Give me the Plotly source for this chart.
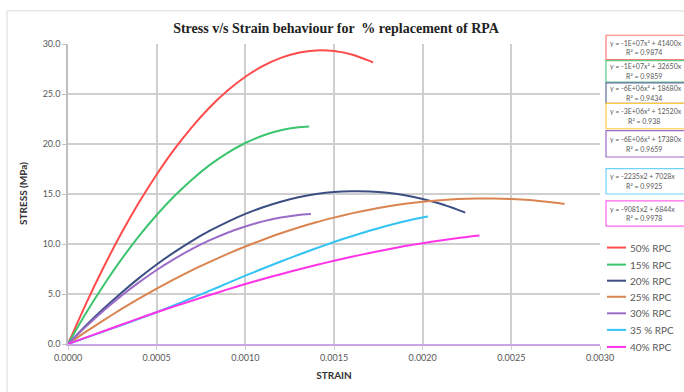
import plotly.graph_objects as go

# Strain readings (in units of 1e-4) and stress (MPa) for each RPC mix
strain_50 = [0, 1, 2, 3, 4, 5, 6, 7, 8, 9, 10, 11, 12, 13, 14, 15, 16, 17, 17.2]
stress_50 = [0, 3.97, 7.65, 11.04, 14.14, 16.95, 19.48, 21.72, 23.68, 25.34, 26.72,
             27.81, 28.61, 29.13, 29.36, 29.29, 28.95, 28.31, 28.15]

strain_15 = [0, 1, 2, 3, 4, 5, 6, 7, 8, 9, 10, 11, 12, 13, 13.6]
stress_15 = [0, 3.04, 5.85, 8.43, 10.78, 12.90, 14.80, 16.46, 17.91, 19.12, 20.10,
             20.85, 21.38, 21.68, 21.75]

strain_20 = [0, 1, 2, 3, 4, 5, 6, 7, 8, 9, 10, 11, 12, 13, 14, 15, 16, 17, 18, 19,
             20, 21, 22, 22.4]
stress_20 = [0, 1.82, 3.52, 5.11, 6.59, 7.95, 9.19, 10.32, 11.33, 12.22, 13.01, 13.68,
             14.23, 14.67, 14.99, 15.20, 15.28, 15.26, 15.13, 14.87, 14.50, 14.02,
             13.41, 13.14]

strain_25 = [0, 1, 2, 3, 4, 5, 6, 7, 8, 9, 10, 11, 12, 13, 14, 15, 16, 17, 18, 19,
             20, 21, 22, 23, 24, 25, 26, 27, 28]
stress_25 = [0, 1.21, 2.37, 3.48, 4.53, 5.53, 6.48, 7.38, 8.22, 9.01, 9.75, 10.43,
             11.07, 11.65, 12.18, 12.64, 13.06, 13.43, 13.75, 14.02, 14.23, 14.38,
             14.49, 14.54, 14.54, 14.49, 14.39, 14.22, 14.01]

strain_30 = [0, 1, 2, 3, 4, 5, 6, 7, 8, 9, 10, 11, 12, 13, 13.7]
stress_30 = [0, 1.72, 3.33, 4.81, 6.16, 7.40, 8.51, 9.51, 10.38, 11.13, 11.75, 12.26,
             12.64, 12.90, 13.00]

strain_35 = [0, 1, 2, 3, 4, 5, 6, 7, 8, 9, 10, 11, 12, 13, 14, 15, 16, 17, 18, 19,
             20, 20.3]
stress_35 = [0, 0.62, 1.25, 1.88, 2.52, 3.18, 3.88, 4.60, 5.33, 6.08, 6.83, 7.55, 8.25,
             8.92, 9.57, 10.20, 10.78, 11.32, 11.82, 12.27, 12.65, 12.75]

strain_40 = [0, 1, 2, 3, 4, 5, 6, 7, 8, 9, 10, 11, 12, 13, 14, 15, 16, 17, 18, 19,
             20, 21, 22, 23, 23.2]
stress_40 = [0, 0.64, 1.28, 1.92, 2.56, 3.18, 3.76, 4.34, 4.90, 5.46, 6.00, 6.50, 6.98,
             7.45, 7.90, 8.32, 8.72, 9.10, 9.46, 9.79, 10.08, 10.35, 10.60, 10.82, 10.86]

series_names = ["50% RPC", "15% RPC", "20% RPC", "25% RPC", "30% RPC", "35 % RPC", "40% RPC"]
series_colors = ["#FF4B4B", "#3CC46E", "#3B4F82", "#DA8550", "#9B6BC8", "#33C3F4", "#FF33E8"]
series_strain = [strain_50, strain_15, strain_20, strain_25, strain_30, strain_35, strain_40]
series_stress = [stress_50, stress_15, stress_20, stress_25, stress_30, stress_35, stress_40]

# Quadratic trendline labels
trend_eq = ["y = -1E+07x² + 41400x", "y = -1E+07x² + 32650x", "y = -6E+06x² + 18680x",
            "y = -3E+06x² + 12520x", "y = -6E+06x² + 17380x", "y = -2235x2 + 7028x",
            "y = -9081x2 + 6844x"]
trend_r2 = ["R² = 0.9874", "R² = 0.9859", "R² = 0.9434", "R² = 0.938", "R² = 0.9659",
            "R² = 0.9925", "R² = 0.9978"]
trend_border = ["#FF7A7A", "#5CCB86", "#5A6C9A", "#FFC940", "#9B6BC8", "#6FD3F7", "#FF66EE"]

x_ticks = [0, 0.0005, 0.0010, 0.0015, 0.0020, 0.0025, 0.0030]
y_ticks = [0, 5, 10, 15, 20, 25, 30]

W, H = 684, 392
L, R, T, B = 68, 600, 44, 352  # plot area in pixels


def px(x):
    return (x - L) / (R - L)


def py(y):
    return (B - y) / (B - T)


fig = go.Figure()
for name, col, sx, sy in zip(series_names, series_colors, series_strain, series_stress):
    fig.add_trace(go.Scatter(
        x=[v * 1e-4 for v in sx], y=sy, name=name, mode="lines",
        line=dict(color=col, width=2, shape="spline", smoothing=0.6),
        showlegend=False,
    ))

tick_font = dict(family="Lato, Liberation Sans, sans-serif", size=9, color="#595959")
small_font = dict(family="Liberation Sans Narrow, Lato, sans-serif", size=7, color="#595959")
axis_title_font = dict(family="Lato, Liberation Sans, sans-serif", size=10, color="#333333")

fig.update_layout(
    width=W, height=H,
    margin=dict(l=L, r=W - R, t=T, b=H - B),
    paper_bgcolor="white", plot_bgcolor="white",
    title=dict(text="<b>Stress v/s Strain behaviour for  % replacement of RPA</b>",
               x=336 / W, xanchor="center", y=1 - 28 / H, yanchor="middle",
               font=dict(family="Liberation Serif, serif", size=14, color="#222222")),
    xaxis=dict(range=[0, 0.003], tickvals=x_ticks, tickformat=".4f",
               showgrid=True, gridcolor="#CFCFCF", gridwidth=1.5,
               showline=True, linecolor="#C9A6E0", linewidth=1.5,
               ticks="outside", ticklen=4, tickcolor="#CFCFCF",
               tickfont=tick_font, zeroline=False,
               title=dict(text="<b>STRAIN</b>", standoff=10, font=axis_title_font)),
    yaxis=dict(range=[0, 30], tickvals=y_ticks, tickformat=".1f",
               showgrid=True, gridcolor="#CFCFCF", gridwidth=1.5,
               showline=True, linecolor="#BFBFBF", linewidth=1.5,
               ticks="outside", ticklen=4, tickcolor="#BFBFBF",
               tickfont=tick_font, zeroline=False),
    showlegend=False,
)

shapes = []
annotations = []

# Vertical axis title
annotations.append(dict(xref="paper", yref="paper", x=px(23), y=py(198),
                        xanchor="center", yanchor="middle", showarrow=False,
                        textangle=-90, text="<b>STRESS (MPa)</b>", font=axis_title_font))

# Outer chart frame
shapes.append(dict(type="rect", xref="paper", yref="paper",
                   x0=px(7), x1=px(720), y0=py(430), y1=py(10),
                   line=dict(color="#D9D9D9", width=1), layer="below"))

# Trendline equation boxes along the right edge
box_tops = [35, 61, 84, 105, 133, 172, 205]
box_bottoms = [60, 83, 105, 131, 160, 198, 231]
for eq, r2, bc, t0, b0 in zip(trend_eq, trend_r2, trend_border, box_tops, box_bottoms):
    shapes.append(dict(type="rect", xref="paper", yref="paper",
                       x0=px(606), x1=px(760), y0=py(b0), y1=py(t0),
                       line=dict(color=bc, width=1.2), fillcolor="white"))
    mid = (t0 + b0) / 2
    annotations.append(dict(xref="paper", yref="paper", x=px(608), y=py(mid - 5),
                            xanchor="left", yanchor="middle", showarrow=False,
                            text=eq, font=small_font))
    annotations.append(dict(xref="paper", yref="paper", x=px(644), y=py(mid + 5),
                            xanchor="center", yanchor="middle", showarrow=False,
                            text=r2, font=small_font))

# Legend entries
legend_y = [253, 270.5, 287, 303.5, 320.5, 337.5, 355]
for name, col, ly in zip(series_names, series_colors, legend_y):
    shapes.append(dict(type="line", xref="paper", yref="paper",
                       x0=px(607), x1=px(626), y0=py(ly), y1=py(ly),
                       line=dict(color=col, width=2)))
    annotations.append(dict(xref="paper", yref="paper", x=px(628), y=py(ly),
                            xanchor="left", yanchor="middle", showarrow=False,
                            text=name, font=dict(family="Lato, Liberation Sans, sans-serif",
                                                 size=10, color="#595959")))

fig.update_layout(shapes=shapes, annotations=annotations)
fig.write_html("out.html")
